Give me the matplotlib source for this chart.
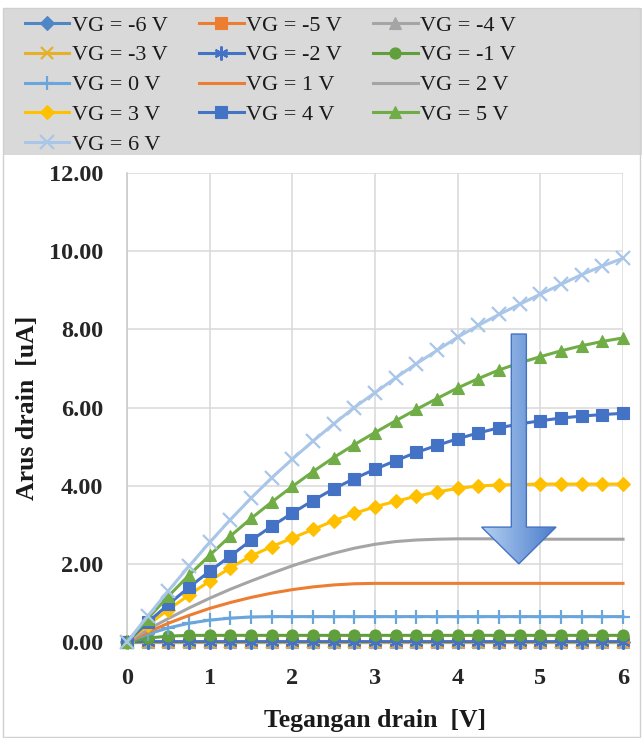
import numpy as np
import matplotlib
matplotlib.use("Agg")
import matplotlib.pyplot as plt
from matplotlib.patches import Polygon, Rectangle
from matplotlib.colors import LinearSegmentedColormap

plt.rcParams['font.family'] = ['Liberation Serif', 'DejaVu Serif']

# ---------------- data ----------------
vd = [0, 0.25, 0.5, 0.75, 1, 1.25, 1.5, 1.75, 2, 2.25, 2.5, 2.75, 3,
      3.25, 3.5, 3.75, 4, 4.25, 4.5, 4.75, 5, 5.25, 5.5, 5.75, 6]

labels = ["VG = -6 V", "VG = -5 V", "VG = -4 V", "VG = -3 V", "VG = -2 V",
          "VG = -1 V", "VG = 0 V", "VG = 1 V", "VG = 2 V", "VG = 3 V",
          "VG = 4 V", "VG = 5 V", "VG = 6 V"]

id_m6 = [0.0] * 25
id_m5 = [0.0] * 25
id_m4 = [0.0] * 25
id_m3 = [0.0] * 25
id_m2 = [0.0, 0.01, 0.01, 0.01, 0.01, 0.01, 0.01, 0.01, 0.01, 0.01, 0.01, 0.01, 0.01,
         0.01, 0.01, 0.01, 0.01, 0.01, 0.01, 0.01, 0.01, 0.01, 0.01, 0.01, 0.01]
id_m1 = [0.0, 0.10, 0.15, 0.17, 0.17, 0.17, 0.17, 0.17, 0.17, 0.17, 0.17, 0.17, 0.17,
         0.17, 0.17, 0.17, 0.17, 0.17, 0.17, 0.17, 0.17, 0.17, 0.17, 0.17, 0.17]
id_0 = [0.0, 0.20, 0.36, 0.48, 0.56, 0.61, 0.64, 0.65, 0.65, 0.65, 0.65, 0.65, 0.65,
        0.65, 0.65, 0.65, 0.65, 0.65, 0.65, 0.65, 0.65, 0.65, 0.65, 0.65, 0.65]
id_1 = [0.0, 0.25, 0.48, 0.68, 0.86, 1.01, 1.14, 1.25, 1.34, 1.41, 1.46, 1.49, 1.50,
        1.50, 1.50, 1.50, 1.50, 1.50, 1.50, 1.50, 1.50, 1.50, 1.50, 1.50, 1.50]
id_2 = [0.0, 0.32, 0.60, 0.87, 1.12, 1.35, 1.56, 1.76, 1.95, 2.12, 2.27, 2.40, 2.50,
        2.57, 2.61, 2.63, 2.64, 2.64, 2.64, 2.63, 2.63, 2.63, 2.63, 2.63, 2.63]
id_3 = [0.0, 0.43, 0.83, 1.20, 1.56, 1.90, 2.20, 2.44, 2.66, 2.88, 3.10, 3.29, 3.46,
        3.60, 3.73, 3.84, 3.93, 3.99, 4.02, 4.03, 4.04, 4.04, 4.04, 4.04, 4.04]
id_4 = [0.0, 0.50, 0.96, 1.40, 1.81, 2.20, 2.60, 2.96, 3.30, 3.62, 3.92, 4.18, 4.42,
        4.64, 4.85, 5.03, 5.20, 5.35, 5.48, 5.58, 5.66, 5.73, 5.78, 5.82, 5.85]
id_5 = [0.0, 0.60, 1.17, 1.71, 2.22, 2.71, 3.16, 3.58, 3.98, 4.36, 4.72, 5.05, 5.36,
        5.66, 5.95, 6.23, 6.50, 6.74, 6.96, 7.14, 7.30, 7.45, 7.58, 7.69, 7.78]
id_6 = [0.0, 0.66, 1.31, 1.94, 2.55, 3.13, 3.68, 4.20, 4.68, 5.14, 5.58, 6.00, 6.38,
        6.76, 7.12, 7.46, 7.80, 8.10, 8.38, 8.64, 8.90, 9.15, 9.40, 9.62, 9.82]

series = [id_m6, id_m5, id_m4, id_m3, id_m2, id_m1, id_0, id_1, id_2, id_3, id_4, id_5, id_6]

colors = ["#4F86C6", "#ED7D31", "#A5A5A5", "#E6B12A", "#4472C4", "#5FA03C",
          "#6AA5DC", "#ED7D31", "#A5A5A5", "#FFC000", "#4472C4", "#70AD47", "#A9C6E8"]
markers = ["D", "s", "^", "x", (6, 2, 0), "o", "+", None, None, "D", "s", "^", "x"]
msizes = [7, 8, 8, 9, 10, 8, 10, 0, 0, 7, 8, 8, 10]

xticks = [0, 1, 2, 3, 4, 5, 6]
yticks = [0, 2, 4, 6, 8, 10, 12]

# arrow annotation (data coordinates)
arrow_x = 4.74
arrow_top = 7.88
arrow_head_top = 2.94
arrow_tip = 2.0
arrow_half_shaft = 0.091
arrow_half_head = 0.45

# ---------------- figure ----------------
W, H = 642, 738
fig = plt.figure(figsize=(W / 100, H / 100), dpi=100)
fig.patch.set_facecolor("white")

# gray legend band and outer frame
fig.patches.append(Rectangle((4 / W, 1 - 155 / H), 638 / W, 147 / H,
                             transform=fig.transFigure, facecolor="#D9D9D9",
                             edgecolor="none", zorder=0))
fig.patches.append(Rectangle((3 / W, 1 / H), 637 / W, 1 - 9 / H,
                             transform=fig.transFigure, facecolor="none",
                             edgecolor="#D0D0D0", lw=1, zorder=0))

ax = fig.add_axes([127 / W, 1 - 642 / H, (623 - 127) / W, (642 - 173) / H])
ax.set_facecolor("white")

handles = []
for y, c, m, ms, lab in zip(series, colors, markers, msizes, labels):
    mew = 1.6 if m in ("x", "+", (6, 2, 0)) else 0.8
    h, = ax.plot(vd, y, color=c, lw=2.2, marker=m, markersize=ms,
                 markeredgewidth=mew, markeredgecolor=c, markerfacecolor=c,
                 label=lab, clip_on=False, zorder=3)
    handles.append(h)

ax.set_xlim(0, 6)
ax.set_ylim(0, 12)
ax.set_xticks(xticks)
ax.set_yticks(yticks)
ax.set_xticklabels([str(v) for v in xticks])
ax.set_yticklabels([f"{v:.2f}" for v in yticks])
ax.grid(True, color="#D9D9D9", lw=1.1, zorder=0)
ax.set_axisbelow(True)
for s in ["top", "right", "bottom"]:
    ax.spines[s].set_visible(False)
ax.spines["left"].set_color("#C8C8C8")
ax.spines["left"].set_linewidth(1.1)
ax.tick_params(axis="both", length=0)
ax.tick_params(axis="y", pad=17, labelsize=17.5)
ax.tick_params(axis="x", pad=19, labelsize=17.5)
for t in ax.get_xticklabels() + ax.get_yticklabels():
    t.set_fontweight("bold")
    t.set_color("#262626")

ax.set_xlabel("Tegangan drain  [V]", fontsize=18.5, fontweight="bold", labelpad=14,
              color="#1a1a1a")
ax.set_ylabel("Arus drain  [uA]", fontsize=18.5, fontweight="bold", labelpad=7,
              color="#1a1a1a")

# arrow with gradient fill
verts = [
    (arrow_x - arrow_half_shaft, arrow_top),
    (arrow_x + arrow_half_shaft, arrow_top),
    (arrow_x + arrow_half_shaft, arrow_head_top),
    (arrow_x + arrow_half_head, arrow_head_top),
    (arrow_x, arrow_tip),
    (arrow_x - arrow_half_head, arrow_head_top),
    (arrow_x - arrow_half_shaft, arrow_head_top),
]
poly = Polygon(verts, closed=True, facecolor="none", edgecolor="#4472C4",
               lw=1.0, zorder=6, clip_on=False)
ax.add_patch(poly)
cmap = LinearSegmentedColormap.from_list("arr", ["#B4D0F2", "#4A7CCB"])
grad = np.linspace(0, 1, 256).reshape(1, -1)
im = ax.imshow(grad, cmap=cmap, aspect="auto", zorder=5,
               extent=(arrow_x - arrow_half_head, arrow_x + arrow_half_head,
                       arrow_tip, arrow_top), interpolation="bicubic")
im.set_clip_path(poly)
ax.set_xlim(0, 6)
ax.set_ylim(0, 12)

# legend in row-major order (3 columns)
order = []
ncol = 3
n = len(handles)
for col in range(ncol):
    order += list(range(col, n, ncol))
leg = fig.legend([handles[i] for i in order], [labels[i] for i in order],
                 ncol=3, loc="upper left", bbox_to_anchor=(25 / W, 1 - 15 / H),
                 bbox_transform=fig.transFigure, frameon=False, fontsize=16,
                 handlelength=2.0, handletextpad=0.12, columnspacing=1.4,
                 labelspacing=0.42, borderpad=0, borderaxespad=0)
for t in leg.get_texts():
    t.set_color("#1a1a1a")

fig.savefig("out.png", dpi=100, facecolor="white")
